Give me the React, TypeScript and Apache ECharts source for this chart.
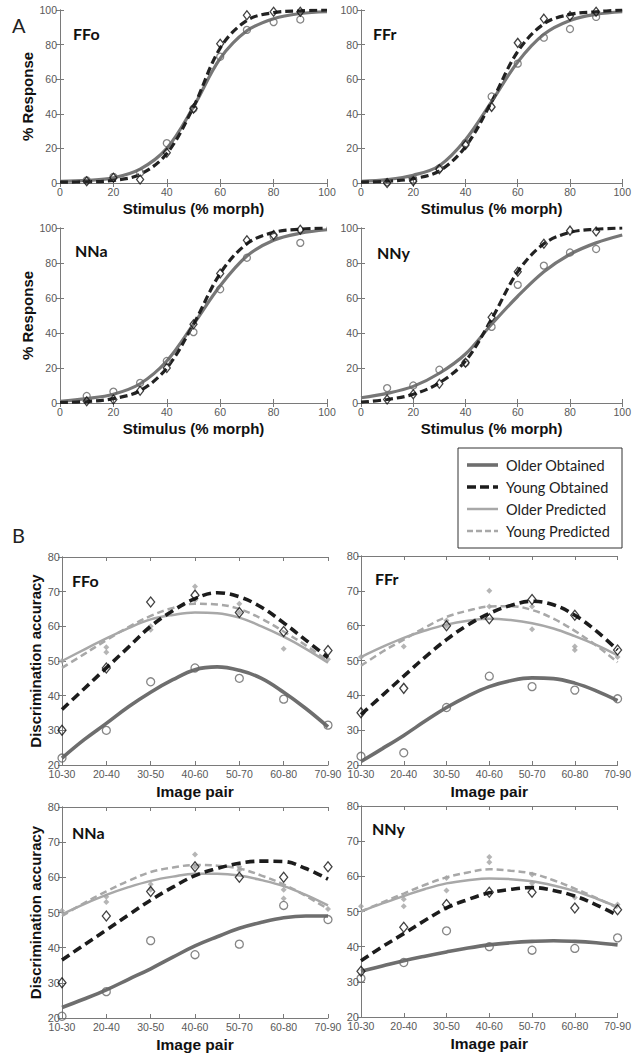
import React, { useEffect, useRef } from "react";
import * as echarts from "echarts";

// ---------- Panel A data (psychometric functions) ----------
const stimulusX = [0, 10, 20, 30, 40, 50, 60, 70, 80, 90, 100];
const stimulusPts = [10, 20, 30, 40, 50, 60, 70, 80, 90];

const aFFoOlderFit = [1, 1.5, 3, 8, 20, 44, 72, 88, 95, 98, 99];
const aFFoYoungFit = [0.5, 0.7, 1.5, 5, 17, 44, 78, 94, 98.5, 99.5, 100];
const aFFoOlderObs = [1.5, 3.5, 6, 23, 43, 73, 88.5, 93, 94.5];
const aFFoYoungObs = [1, 3, 2, 17.5, 43, 80.5, 97, 99, 99];

const aFFrOlderFit = [1, 2, 4.5, 10, 25, 47, 70, 86, 94, 97.5, 99];
const aFFrYoungFit = [0.5, 1, 2.5, 7, 21, 47, 76, 92, 97.5, 99, 100];
const aFFrOlderObs = [0.5, 2, 8.5, 23, 50, 69, 84, 89, 96];
const aFFrYoungObs = [0, 1, 8, 22, 44, 81, 95, 96.5, 99];

const aNNaOlderFit = [1, 2.5, 5, 11, 24, 45, 67, 84, 93, 97, 99];
const aNNaYoungFit = [0.3, 0.8, 2.5, 7, 20, 45, 74, 91, 97.5, 99.3, 100];
const aNNaOlderObs = [4, 6.5, 11.5, 24, 40.5, 65, 83, 95, 91.5];
const aNNaYoungObs = [1, 2, 7, 20, 45, 74, 93, 96, 99];

const aNNyOlderFit = [3, 5.5, 9.5, 17, 28, 45, 61, 75, 85, 91.5, 96];
const aNNyYoungFit = [0.5, 2, 5, 11.5, 24, 48, 75, 91, 97.5, 99.3, 100];
const aNNyOlderObs = [8.5, 10, 19, 23, 43.5, 67.5, 78.5, 86, 88];
const aNNyYoungObs = [2, 5, 11, 23, 49, 75, 91, 98.5, 98];

// ---------- Panel B data (discrimination) ----------
const imagePairs = ["10-30", "20-40", "30-50", "40-60", "50-70", "60-80", "70-90"];
// positions (in image-pair steps) at which the fitted curves were read
const fitPos = [0, 0.5, 1, 1.5, 2, 2.5, 3, 3.5, 4, 4.5, 5, 5.5, 6];

const bFFoOlderObtFit = [22, 27.3, 32, 36.8, 41, 44.6, 47.5, 48.3, 47.3, 45, 41, 36.3, 31];
const bFFoOlderObtObs = [22, 30, 44, 48, 45, 39, 31.5];
const bFFoYoungObtFit = [36, 42, 48, 54, 60, 64.5, 68, 69.7, 68.5, 65.5, 61, 56, 51];
const bFFoYoungObtObs = [30, 48, 67, 69, 64, 58.5, 53];
const bFFoOlderPredFit = [50, 53.3, 56.5, 59.5, 62, 63.3, 64, 63.8, 62.5, 60, 57, 53.5, 49.5];
const bFFoYoungPredFit = [48, 52, 56, 59.8, 63, 65.3, 66.5, 66.3, 65, 62.2, 58.5, 54.5, 50];
const bFFoPredObs: [string, number][] = [
  ["10-30", 50], ["20-40", 54], ["20-40", 52.5], ["30-50", 60], ["30-50", 59],
  ["40-60", 71.5], ["40-60", 67.5], ["50-70", 66.5], ["50-70", 64], ["60-80", 53.5], ["70-90", 50.5],
];

const bFFrOlderObtFit = [21, 24.7, 28.5, 32.6, 36.5, 39.8, 42.5, 44.2, 45, 44.8, 43.5, 41.3, 38.5];
const bFFrOlderObtObs = [22.5, 23.5, 36.5, 45.5, 42.5, 41.5, 39];
const bFFrYoungObtFit = [34.5, 40, 45.5, 51, 56, 60.2, 63.5, 65.8, 67, 66, 63, 58.5, 53];
const bFFrYoungObtObs = [35, 42, 60, 62, 67.5, 63, 53];
const bFFrOlderPredFit = [51, 53.9, 56.5, 58.6, 60.3, 61.4, 62, 61.6, 60.7, 59.2, 57, 54.5, 51.5];
const bFFrYoungPredFit = [48.5, 52.5, 56, 59.5, 62.5, 64.3, 65.5, 65.6, 64.5, 62, 58.5, 54.3, 49.5];
const bFFrPredObs: [string, number][] = [
  ["10-30", 51], ["20-40", 54], ["30-50", 61.5], ["30-50", 60], ["40-60", 70], ["40-60", 65.5],
  ["50-70", 65.5], ["50-70", 59], ["60-80", 54], ["60-80", 53], ["70-90", 51],
];

const bNNaOlderObtFit = [23, 25.4, 28, 31, 34, 37.3, 40.5, 43.1, 45.5, 47.2, 48.5, 49, 49];
const bNNaOlderObtObs = [20.5, 27.5, 42, 38, 41, 52, 48];
const bNNaYoungObtFit = [36.5, 40.8, 45, 49.3, 53.5, 57.2, 60.5, 62.5, 64, 64.6, 64.5, 62.5, 59.5];
const bNNaYoungObtObs = [30, 49, 56, 63, 60, 60, 63];
const bNNaOlderPredFit = [49.5, 52.4, 55, 57.2, 59, 60.2, 61, 61, 60.5, 59.2, 57.5, 55, 52];
const bNNaYoungPredFit = [49, 52.7, 56, 59, 61.5, 62.8, 63.5, 63.3, 62.5, 60.5, 58, 54.7, 51];
const bNNaPredObs: [string, number][] = [
  ["10-30", 50.5], ["20-40", 53], ["20-40", 54.5], ["30-50", 58], ["30-50", 56.5],
  ["40-60", 66.5], ["40-60", 63], ["50-70", 63], ["50-70", 62], ["60-80", 54], ["60-80", 56.5], ["70-90", 51],
];

const bNNyOlderObtFit = [33, 34.5, 36, 37.3, 38.5, 39.6, 40.5, 41.1, 41.5, 41.7, 41.5, 41.1, 40.5];
const bNNyOlderObtObs = [31, 35.5, 44.5, 40, 39, 39.5, 42.5];
const bNNyYoungObtFit = [36, 40, 43.7, 47.5, 51, 53.4, 55.3, 56.3, 56.8, 56, 54.4, 51.9, 48.9];
const bNNyYoungObtObs = [33, 45.5, 52, 55.5, 55.5, 51, 50.5];
const bNNyOlderPredFit = [50, 52.3, 54.4, 56.4, 58, 58.9, 59.4, 59.2, 58.6, 57.4, 55.8, 53.7, 51.3];
const bNNyYoungPredFit = [50, 52.6, 55.1, 57.6, 59.7, 61.1, 62, 61.6, 60.8, 58.9, 56.5, 53.9, 51];
const bNNyPredObs: [string, number][] = [
  ["10-30", 51.5], ["20-40", 53.5], ["20-40", 51.5], ["30-50", 59.5], ["30-50", 56],
  ["40-60", 65.5], ["40-60", 64], ["50-70", 60.5], ["50-70", 58], ["60-80", 54], ["70-90", 52],
];

const legendLabels = ["Older Obtained", "Young Obtained", "Older Predicted", "Young Predicted"];

// ---------- styling ----------
const ARIAL = '"Liberation Sans", Arial, sans-serif';
const CALIBRI = 'Lato, "Open Sans", sans-serif';
const AXIS_C = "#7a7a7a";
const LABEL_C = "#595959";
const OLDER_OBT = "#6e6e6e";
const YOUNG_OBT = "#1c1c1c";
const PRED = "#a8a8a8";

function buildOption() {
  const grid: any[] = [];
  const xAxis: any[] = [];
  const yAxis: any[] = [];
  const series: any[] = [];
  const graphic: any[] = [];

  const panelsA = [
    { label: "FFo", box: { left: 60, top: 10, width: 267, height: 173 }, lab: [73, 33], older: aFFoOlderFit, young: aFFoYoungFit, oObs: aFFoOlderObs, yObs: aFFoYoungObs, yName: true },
    { label: "FFr", box: { left: 361, top: 10, width: 266, height: 173 }, lab: [373, 33], older: aFFrOlderFit, young: aFFrYoungFit, oObs: aFFrOlderObs, yObs: aFFrYoungObs, yName: false },
    { label: "NNa", box: { left: 60, top: 228, width: 267, height: 175 }, lab: [75, 250], older: aNNaOlderFit, young: aNNaYoungFit, oObs: aNNaOlderObs, yObs: aNNaYoungObs, yName: true },
    { label: "NNy", box: { left: 361, top: 228, width: 266, height: 175 }, lab: [377, 252], older: aNNyOlderFit, young: aNNyYoungFit, oObs: aNNyOlderObs, yObs: aNNyYoungObs, yName: false },
  ];
  const panelsB = [
    { label: "FFo", box: { left: 62, top: 557, width: 266, height: 208 }, lab: [72, 580], oFit: bFFoOlderObtFit, oObs: bFFoOlderObtObs, yFit: bFFoYoungObtFit, yObs: bFFoYoungObtObs, opFit: bFFoOlderPredFit, ypFit: bFFoYoungPredFit, pObs: bFFoPredObs, yName: true },
    { label: "FFr", box: { left: 361, top: 556, width: 267, height: 209 }, lab: [375, 578], oFit: bFFrOlderObtFit, oObs: bFFrOlderObtObs, yFit: bFFrYoungObtFit, yObs: bFFrYoungObtObs, opFit: bFFrOlderPredFit, ypFit: bFFrYoungPredFit, pObs: bFFrPredObs, yName: false },
    { label: "NNa", box: { left: 62, top: 807, width: 266, height: 211 }, lab: [72, 832], oFit: bNNaOlderObtFit, oObs: bNNaOlderObtObs, yFit: bNNaYoungObtFit, yObs: bNNaYoungObtObs, opFit: bNNaOlderPredFit, ypFit: bNNaYoungPredFit, pObs: bNNaPredObs, yName: true },
    { label: "NNy", box: { left: 361, top: 806, width: 267, height: 211 }, lab: [372, 828], oFit: bNNyOlderObtFit, oObs: bNNyOlderObtObs, yFit: bNNyYoungObtFit, yObs: bNNyYoungObtObs, opFit: bNNyOlderPredFit, ypFit: bNNyYoungPredFit, pObs: bNNyPredObs, yName: false },
  ];

  const axisLine = { show: true, lineStyle: { color: AXIS_C, width: 1 } };
  const tick = { show: true, inside: true, length: 4, lineStyle: { color: AXIS_C } };
  const nameStyle = { fontFamily: ARIAL, fontWeight: "bold", fontSize: 15, color: "#111" };

  const circleStyle = { color: "rgba(255,255,255,0)", borderColor: "#666", borderWidth: 1.3 };
  const diamondStyle = { color: "rgba(255,255,255,0)", borderColor: "#111", borderWidth: 1.3 };

  let g = 0;
  panelsA.forEach((p) => {
    grid.push({ ...p.box, containLabel: false });
    const base = { gridIndex: g, type: "value", min: 0, max: 100, interval: 20, splitLine: { show: false }, axisLine, axisTick: tick };
    xAxis.push({
      ...base, position: "bottom",
      axisLabel: { color: LABEL_C, fontSize: 10.5, fontFamily: ARIAL, margin: 3 },
      name: "Stimulus (% morph)", nameLocation: "middle", nameGap: 18, nameTextStyle: nameStyle,
    });
    xAxis.push({ ...base, position: "top", axisLabel: { show: false } });
    yAxis.push({
      ...base, position: "left",
      axisLabel: { color: LABEL_C, fontSize: 10.5, fontFamily: ARIAL, margin: 3 },
      ...(p.yName ? { name: "% Response", nameLocation: "middle", nameGap: 25, nameTextStyle: nameStyle } : {}),
    });
    yAxis.push({ ...base, position: "right", axisLabel: { show: false } });
    const xi = 2 * g, yi = 2 * g;
    series.push({
      type: "line", xAxisIndex: xi, yAxisIndex: yi, smooth: 0.35, showSymbol: false, silent: true,
      data: stimulusX.map((x, k) => [x, p.older[k]]),
      lineStyle: { color: "#777", width: 3.2 }, z: 2,
    });
    series.push({
      type: "line", xAxisIndex: xi, yAxisIndex: yi, smooth: 0.35, showSymbol: false, silent: true,
      data: stimulusX.map((x, k) => [x, p.young[k]]),
      lineStyle: { color: "#222", width: 3.2, type: [8, 4] }, z: 3,
    });
    series.push({
      type: "scatter", xAxisIndex: xi, yAxisIndex: yi, symbol: "circle", symbolSize: 7, clip: false, silent: true,
      data: stimulusPts.map((x, k) => [x, p.oObs[k]]), itemStyle: circleStyle, z: 4,
    });
    series.push({
      type: "scatter", xAxisIndex: xi, yAxisIndex: yi, symbol: "diamond", symbolSize: [7, 9], clip: false, silent: true,
      data: stimulusPts.map((x, k) => [x, p.yObs[k]]), itemStyle: diamondStyle, z: 4,
    });
    graphic.push({
      type: "text", x: p.lab[0], y: p.lab[1],
      style: { text: p.label, font: `bold 16px ${CALIBRI}`, fill: "#111", verticalAlign: "middle" },
    });
    g++;
  });

  panelsB.forEach((p) => {
    grid.push({ ...p.box, containLabel: false });
    const xb = { gridIndex: g, type: "value", min: 0, max: 6, interval: 1, splitLine: { show: false }, axisLine, axisTick: tick };
    const yb = { gridIndex: g, type: "value", min: 20, max: 80, interval: 10, splitLine: { show: false }, axisLine, axisTick: tick };
    xAxis.push({
      ...xb, position: "bottom",
      axisLabel: {
        color: LABEL_C, fontSize: 10.5, fontFamily: ARIAL, margin: 3,
        formatter: (v: number) => imagePairs[Math.round(v)] ?? "",
      },
      name: "Image pair", nameLocation: "middle", nameGap: 18, nameTextStyle: { ...nameStyle, fontSize: 15.5 },
    });
    xAxis.push({ ...xb, position: "top", axisLabel: { show: false } });
    yAxis.push({
      ...yb, position: "left",
      axisLabel: { color: LABEL_C, fontSize: 11, fontFamily: ARIAL, margin: 2 },
      ...(p.yName ? { name: "Discrimination accuracy", nameLocation: "middle", nameGap: 19, nameTextStyle: nameStyle } : {}),
    });
    yAxis.push({ ...yb, position: "right", axisLabel: { show: false } });
    const xi = 2 * g, yi = 2 * g;
    const curve = (vals: number[]) => fitPos.map((x, k) => [x, vals[k]]);
    series.push({
      type: "line", xAxisIndex: xi, yAxisIndex: yi, smooth: 0.4, showSymbol: false, silent: true,
      data: curve(p.opFit), lineStyle: { color: PRED, width: 2.5 }, z: 2,
    });
    series.push({
      type: "line", xAxisIndex: xi, yAxisIndex: yi, smooth: 0.4, showSymbol: false, silent: true,
      data: curve(p.ypFit), lineStyle: { color: PRED, width: 2.5, type: [7, 4] }, z: 2,
    });
    series.push({
      type: "scatter", xAxisIndex: xi, yAxisIndex: yi, symbol: "diamond", symbolSize: 6, clip: false, silent: true,
      data: p.pObs.map(([c, v]) => [imagePairs.indexOf(c), v]), itemStyle: { color: "#a3a3a3" }, z: 3,
    });
    series.push({
      type: "line", xAxisIndex: xi, yAxisIndex: yi, smooth: 0.4, showSymbol: false, silent: true,
      data: curve(p.oFit), lineStyle: { color: OLDER_OBT, width: 3.6 }, z: 4,
    });
    series.push({
      type: "line", xAxisIndex: xi, yAxisIndex: yi, smooth: 0.4, showSymbol: false, silent: true,
      data: curve(p.yFit), lineStyle: { color: YOUNG_OBT, width: 3.6, type: [9, 5] }, z: 5,
    });
    series.push({
      type: "scatter", xAxisIndex: xi, yAxisIndex: yi, symbol: "circle", symbolSize: 8, clip: false, silent: true,
      data: p.oObs.map((v, k) => [k, v]), itemStyle: circleStyle, z: 6,
    });
    series.push({
      type: "scatter", xAxisIndex: xi, yAxisIndex: yi, symbol: "diamond", symbolSize: [8, 10], clip: false, silent: true,
      data: p.yObs.map((v, k) => [k, v]), itemStyle: diamondStyle, z: 6,
    });
    graphic.push({
      type: "text", x: p.lab[0], y: p.lab[1],
      style: { text: p.label, font: `bold 16px ${CALIBRI}`, fill: "#111", verticalAlign: "middle" },
    });
    g++;
  });

  // Section letters
  graphic.push({ type: "text", x: 12, y: 25, style: { text: "A", font: `20px ${CALIBRI}`, fill: "#222", verticalAlign: "middle" } });
  graphic.push({ type: "text", x: 12, y: 535, style: { text: "B", font: `20px ${CALIBRI}`, fill: "#222", verticalAlign: "middle" } });

  // Legend box
  const rows = [465, 487, 509, 531];
  const legendLines = [
    { stroke: OLDER_OBT, lineWidth: 3.6 },
    { stroke: YOUNG_OBT, lineWidth: 3.6, lineDash: [9, 4] },
    { stroke: PRED, lineWidth: 2.5 },
    { stroke: PRED, lineWidth: 2.5, lineDash: [6, 3] },
  ];
  const legendChildren: any[] = [
    { type: "rect", shape: { x: 458, y: 448, width: 164, height: 100 }, style: { fill: "#fff", stroke: "#333", lineWidth: 1 } },
  ];
  legendLabels.forEach((t, i) => {
    legendChildren.push({ type: "line", shape: { x1: 467, y1: rows[i], x2: 498, y2: rows[i] }, style: legendLines[i] });
    legendChildren.push({ type: "text", x: 506, y: rows[i], style: { text: t, font: `14.5px ${CALIBRI}`, fill: "#222", verticalAlign: "middle" } });
  });
  graphic.push({ type: "group", children: legendChildren });

  return { animation: false, backgroundColor: "#fff", grid, xAxis, yAxis, series, graphic };
}

export default function App() {
  const ref = useRef<HTMLDivElement>(null);
  useEffect(() => {
    if (!ref.current) return;
    const chart = echarts.init(ref.current, undefined, { renderer: "svg" });
    chart.setOption(buildOption() as any);
    return () => chart.dispose();
  }, []);
  return <div ref={ref} style={{ position: "absolute", left: 0, top: 0, width: 634, height: 1053, background: "#fff" }} />;
}
